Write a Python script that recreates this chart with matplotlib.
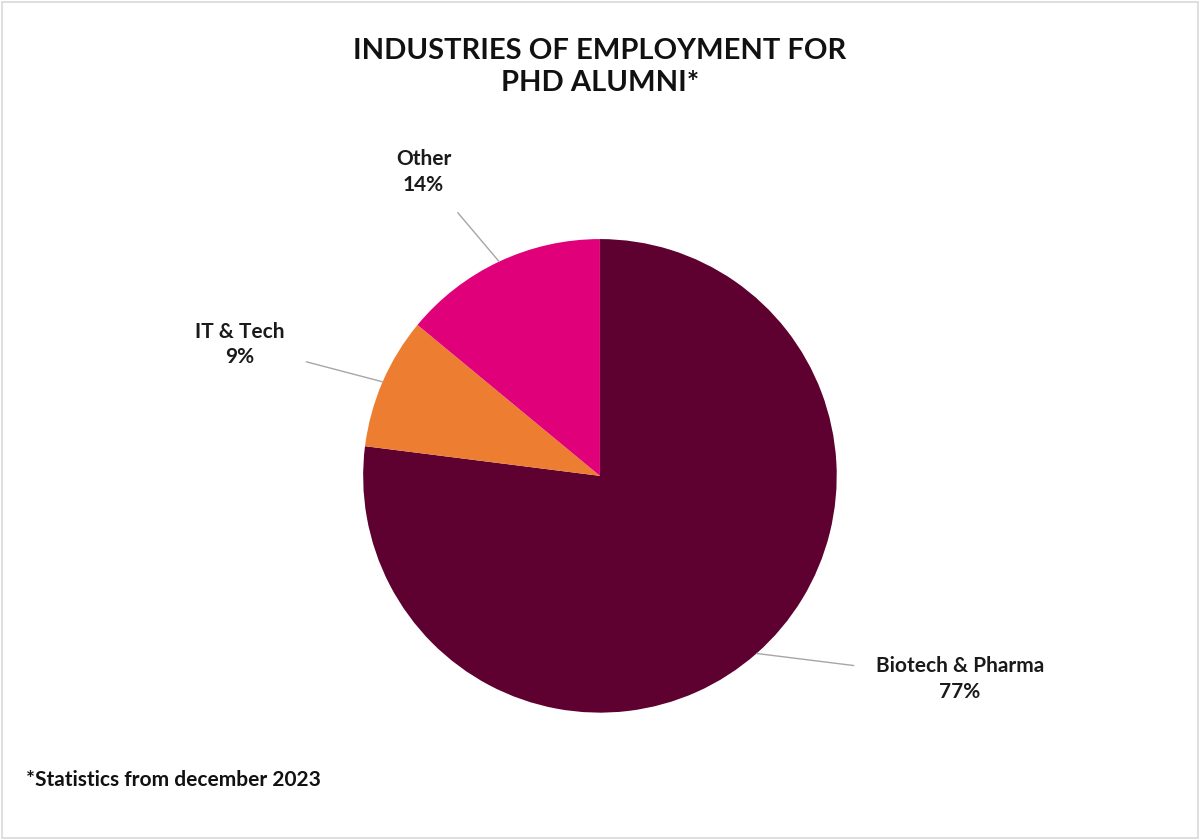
import numpy as np
import matplotlib
matplotlib.use("Agg")
import matplotlib.pyplot as plt
from matplotlib.patches import Rectangle

categories = ["Biotech & Pharma", "IT & Tech", "Other"]
values = [77, 9, 14]
colors = ["#5E0030", "#ED7D31", "#E0007A"]
label_pos = [(0.80, 0.192), (0.200, 0.59), (0.353, 0.795)]
label_ha = ["center", "center", "center"]

plt.rcParams["font.family"] = "Lato"
fig = plt.figure(figsize=(12, 8.4), dpi=100)
fig.patches.append(Rectangle((0.002, 0.002), 0.996, 0.996, transform=fig.transFigure,
                             fill=False, edgecolor="#D9D9D9", lw=1.2))
ax = fig.add_axes([0.2533, 0.081, 0.4933, 0.705])
wedges, _ = ax.pie(values, colors=colors, startangle=90, counterclock=False,
                   wedgeprops=dict(linewidth=0))
ax.set_aspect("equal")
for w, cat, v, pos, ha in zip(wedges, categories, values, label_pos, label_ha):
    mid = np.deg2rad((w.theta1 + w.theta2) / 2)
    xy = (np.cos(mid), np.sin(mid))
    ax.annotate(f"{cat}\n{v}%", xy=xy, xycoords="data", xytext=pos,
                textcoords="figure fraction", ha=ha, va="center", fontsize=15,
                fontweight="bold", color="#1a1a1a", linespacing=1.35,
                arrowprops=dict(arrowstyle="-", color="#A6A6A6", lw=1,
                                shrinkA=14, shrinkB=0))
fig.text(0.5, 0.92, "INDUSTRIES OF EMPLOYMENT FOR\nPHD ALUMNI*", ha="center", va="center",
         fontsize=21, fontweight="bold", color="#111111", linespacing=1.3)
fig.text(0.022, 0.072, "*Statistics from december 2023", ha="left", va="center",
         fontsize=15, fontweight="bold", color="#111111")
fig.savefig("out.png", dpi=100)
